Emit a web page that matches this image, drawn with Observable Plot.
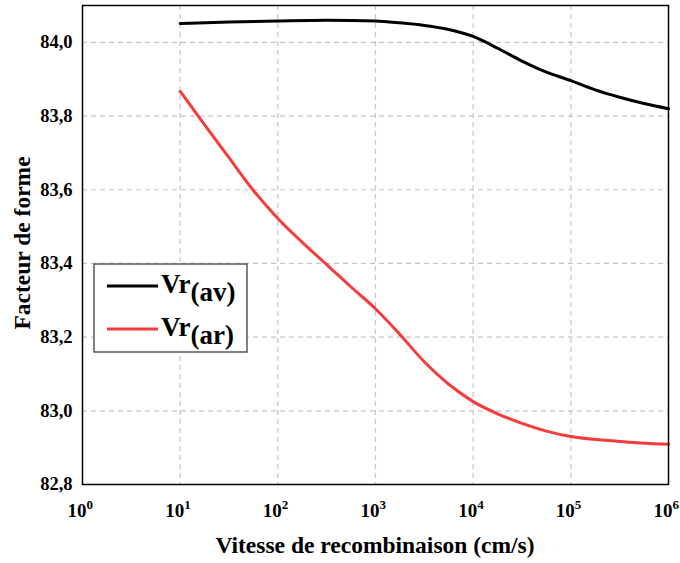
<!DOCTYPE html>
<html>
<head>
<meta charset="utf-8">
<script src="https://cdn.jsdelivr.net/npm/d3@7"></script>
<script src="https://cdn.jsdelivr.net/npm/@observablehq/plot@0.6"></script>
<style>
  html, body { margin: 0; padding: 0; background: #fff; }
  #chart { position: relative; width: 680px; height: 563px; }
</style>
</head>
<body>
<div id="chart"></div>
<script>
// Recombination velocity (cm/s)
const sAv = [10, 31.6, 100, 316, 1000, 1778, 3162, 5623, 10000, 17783, 31623, 56234, 100000, 177828, 316228, 562341, 1000000];
const vrAv = [84.051, 84.055, 84.058, 84.060, 84.058, 84.053, 84.046, 84.035, 84.016, 83.984, 83.949, 83.919, 83.896, 83.871, 83.851, 83.834, 83.820];

const sAr = [10, 17.8, 31.6, 56.2, 100, 178, 316, 562, 1000, 1778, 3162, 5623, 10000, 17783, 31623, 56234, 100000, 316228, 1000000];
const vrAr = [83.867, 83.776, 83.687, 83.598, 83.522, 83.457, 83.397, 83.336, 83.277, 83.207, 83.133, 83.072, 83.025, 82.992, 82.966, 82.945, 82.930, 82.917, 82.909];

const seriesNames = ["Vr", "Vr"];
const seriesSubs = ["(av)", "(ar)"];
const seriesColors = ["#000000", "#f43c3c"];

const xTicks = [1, 10, 100, 1000, 10000, 100000, 1000000];
const xExponents = ["0", "1", "2", "3", "4", "5", "6"];
const xGrid = [10, 100, 1000, 10000, 100000];
const yTicks = [82.8, 83.0, 83.2, 83.4, 83.6, 83.8, 84.0];
const yGrid = [83.0, 83.2, 83.4, 83.6, 83.8, 84.0];

const xTitle = "Vitesse de recombinaison (cm/s)";
const yTitle = "Facteur de forme";

const dataAv = sAv.map((s, i) => ({s, v: vrAv[i]}));
const dataAr = sAr.map((s, i) => ({s, v: vrAr[i]}));
const xTickData = xTicks.map((t, i) => ({t, e: xExponents[i]}));

const font = "'Liberation Serif', 'Times New Roman', 'DejaVu Serif', serif";
const gridStyle = {stroke: "#c4c4c4", strokeOpacity: 1, strokeWidth: 1.2, strokeDasharray: "5,4"};

const plot = Plot.plot({
  width: 680,
  height: 563,
  marginLeft: 82,
  marginRight: 12,
  marginTop: 5,
  marginBottom: 79,
  style: {fontFamily: font, background: "#fff"},
  x: {type: "log", domain: [1, 1e6]},
  y: {domain: [82.8, 84.1]},
  marks: [
    Plot.gridX(xGrid, gridStyle),
    Plot.gridY(yGrid, gridStyle),
    Plot.axisY(yTicks, {
      tickSize: 0, tickPadding: 10, fontSize: 18.5, fontWeight: "bold", fontFamily: font,
      fill: "#000", tickFormat: d => d.toFixed(1).replace(".", ","), label: null
    }),
    Plot.axisX({ticks: [], label: null, tickSize: 0}),
    Plot.text(xTickData, {
      x: "t", frameAnchor: "bottom", dy: 32, dx: 4, text: () => "10", textAnchor: "end",
      fontSize: 19, fontWeight: "bold", fontFamily: font, fill: "#000"
    }),
    Plot.text(xTickData, {
      x: "t", frameAnchor: "bottom", dy: 24, dx: 4, text: "e", textAnchor: "start",
      fontSize: 13, fontWeight: "bold", fontFamily: font, fill: "#000"
    }),
    Plot.line(dataAv, {x: "s", y: "v", stroke: seriesColors[0], strokeWidth: 3, curve: "monotone-x"}),
    Plot.line(dataAr, {x: "s", y: "v", stroke: seriesColors[1], strokeWidth: 3, curve: "monotone-x"}),
    Plot.frame({stroke: "#000", strokeWidth: 1.5})
  ]
});

const svg = d3.select(plot);
// axis titles
svg.append("text")
  .attr("x", 375).attr("y", 553)
  .attr("text-anchor", "middle")
  .attr("font-family", font).attr("font-weight", "bold").attr("font-size", 23.5)
  .attr("fill", "#000")
  .text(xTitle);
svg.append("text")
  .attr("transform", "translate(30,243) rotate(-90)")
  .attr("text-anchor", "middle")
  .attr("font-family", font).attr("font-weight", "bold").attr("font-size", 23.5)
  .attr("fill", "#000")
  .text(yTitle);

// legend
const lg = svg.append("g");
lg.append("rect")
  .attr("x", 94).attr("y", 264).attr("width", 153).attr("height", 88)
  .attr("fill", "#fff").attr("stroke", "#555").attr("stroke-width", 1.5);
seriesNames.forEach((name, i) => {
  const cy = 286 + i * 43;
  lg.append("line")
    .attr("x1", 107).attr("x2", 158).attr("y1", cy).attr("y2", cy)
    .attr("stroke", seriesColors[i]).attr("stroke-width", 3);
  const t = lg.append("text")
    .attr("x", 161).attr("y", cy + 7)
    .attr("text-anchor", "start")
    .attr("font-family", font).attr("font-weight", "bold").attr("font-size", 27)
    .attr("fill", "#000");
  t.append("tspan").text(name);
  t.append("tspan").attr("dy", 8).attr("font-size", 27).text(seriesSubs[i]);
});

document.getElementById("chart").appendChild(plot);
</script>
</body>
</html>
